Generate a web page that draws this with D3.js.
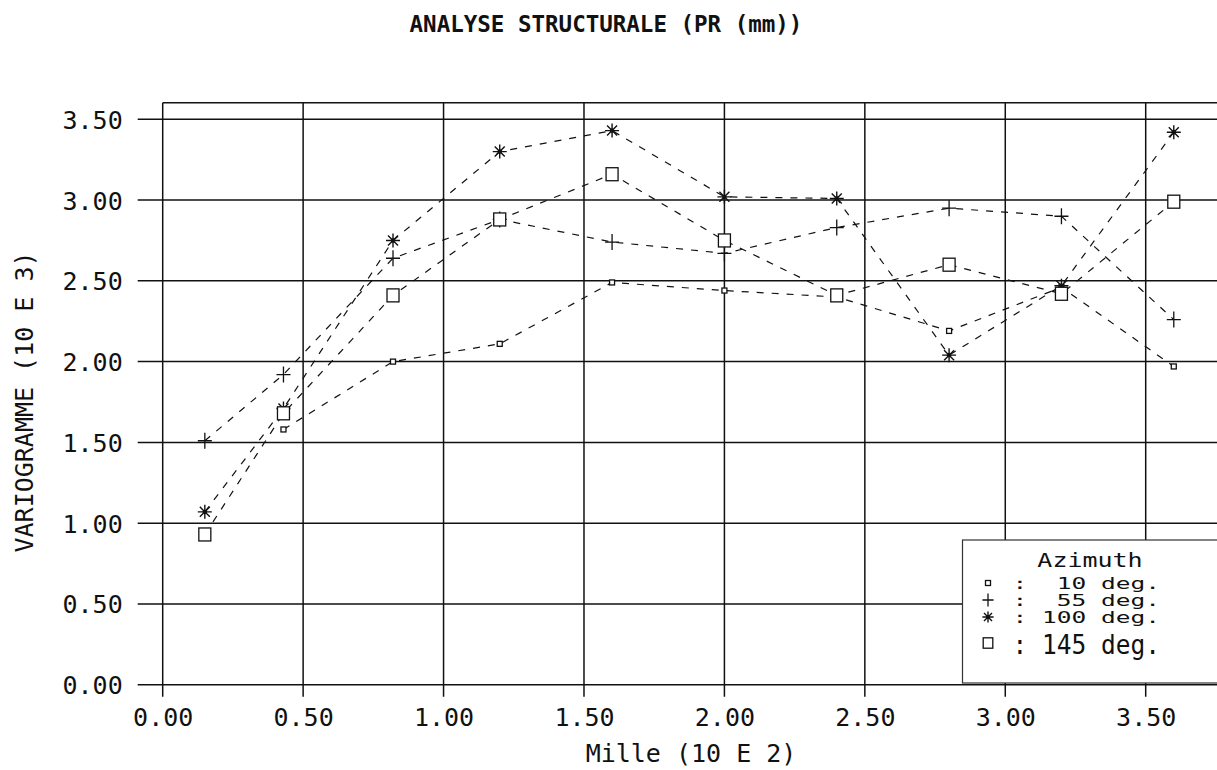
<!DOCTYPE html>
<html>
<head>
<meta charset="utf-8">
<script src="https://cdn.jsdelivr.net/npm/d3@7"></script>
<style>
  html, body { margin: 0; padding: 0; background: #fff; }
  svg { display: block; }
  text { font-family: "DejaVu Sans Mono", "Liberation Mono", monospace; fill: #111; }
</style>
</head>
<body>
<svg id="chart" width="1217" height="770"></svg>
<script>
// Lag distances (Mille, 10 E 2) and experimental variogram values (10 E 3) per azimuth
const lags  = [0.15, 0.43, 0.82, 1.20, 1.60, 2.00, 2.40, 2.80, 3.20, 3.60];
const az10  = [null, 1.58, 2.00, 2.11, 2.49, 2.44, 2.40, 2.19, 2.46, 1.97];
const az55  = [1.51, 1.92, 2.64, 2.88, 2.74, 2.67, 2.83, 2.95, 2.90, 2.26];
const az100 = [1.07, 1.71, 2.75, 3.30, 3.43, 3.02, 3.01, 2.04, 2.47, 3.42];
const az145 = [0.93, 1.68, 2.41, 2.88, 3.16, 2.75, 2.41, 2.60, 2.42, 2.99];

const seriesNames   = ["10 deg.", "55 deg.", "100 deg.", "145 deg."];
const seriesSymbols = ["dot", "plus", "star", "square"];
const xTicks = [0, 0.5, 1.0, 1.5, 2.0, 2.5, 3.0, 3.5];
const yTicks = [0, 0.5, 1.0, 1.5, 2.0, 2.5, 3.0, 3.5];

const titleText  = "ANALYSE STRUCTURALE (PR (mm))";
const xTitleText = "Mille (10 E 2)";
const yTitleText = "VARIOGRAMME (10 E 3)";
const legendTitle = "Azimuth";

const W = 1217, H = 770;
const svg = d3.select("#chart");

const x = d3.scaleLinear().domain([0, 3.5]).range([162.7, 1145.7]);
const y = d3.scaleLinear().domain([0, 3.5]).range([684.7, 119.3]);
const frameTop = 102.7;
const fmt = d3.format(".2f");
const ink = "#111";

// ---- grid and frame ----
const grid = svg.append("g").attr("stroke", ink).attr("stroke-width", 1.5);
grid.selectAll("line.h").data(yTicks).join("line")
  .attr("class", "h")
  .attr("x1", x(0) - 25).attr("x2", W)
  .attr("y1", d => y(d)).attr("y2", d => y(d));
grid.selectAll("line.v").data(xTicks).join("line")
  .attr("class", "v")
  .attr("x1", d => x(d)).attr("x2", d => x(d))
  .attr("y1", frameTop).attr("y2", y(0) + 12);
grid.append("line")
  .attr("x1", x(0)).attr("x2", W)
  .attr("y1", frameTop).attr("y2", frameTop);

// ---- axes (labels) ----
const xAxis = d3.axisBottom(x).tickValues(xTicks).tickFormat(fmt).tickSize(0).tickPadding(0);
const gx = svg.append("g").attr("transform", `translate(0,${y(0)})`).call(xAxis);
gx.select(".domain").remove();
gx.selectAll("text")
  .attr("y", 41.5).attr("dy", null)
  .attr("font-size", 25).attr("font-family", null).attr("fill", ink);

const yAxis = d3.axisLeft(y).tickValues(yTicks).tickFormat(fmt).tickSize(0).tickPadding(0);
const gy = svg.append("g").attr("transform", `translate(${x(0)},0)`).call(yAxis);
gy.select(".domain").remove();
gy.selectAll("text")
  .attr("x", -40).attr("dy", "0.36em")
  .attr("font-size", 25).attr("font-family", null).attr("fill", ink);

// ---- titles ----
svg.append("text")
  .attr("x", 606).attr("y", 32)
  .attr("text-anchor", "middle")
  .attr("font-size", 22.5).attr("font-weight", "bold")
  .text(titleText);

svg.append("text")
  .attr("x", 691).attr("y", 762)
  .attr("text-anchor", "middle")
  .attr("font-size", 25)
  .text(xTitleText);

svg.append("text")
  .attr("transform", "translate(33,402) rotate(-90)")
  .attr("text-anchor", "middle")
  .attr("font-size", 25)
  .text(yTitleText);

// ---- marker shapes ----
function drawSymbol(g, type, cx, cy, scale) {
  const s = scale || 1;
  const m = g.append("g").attr("transform", `translate(${cx},${cy})`)
    .attr("stroke", ink).attr("fill", "none").attr("stroke-width", 1.3);
  if (type === "dot") {
    m.append("rect").attr("x", -2.5).attr("y", -2.5).attr("width", 5).attr("height", 5)
      .attr("fill", "#fff");
  } else if (type === "plus") {
    m.append("path").attr("d", `M${-7*s},0H${7*s}M0,${-8*s}V${8*s}`);
  } else if (type === "star") {
    const r = 7 * s, d = 5 * s;
    m.append("path").attr("stroke-width", 1.4)
      .attr("d", `M${-r},0H${r}M0,${-r}V${r}M${-d},${-d}L${d},${d}M${-d},${d}L${d},${-d}`);
    m.append("circle").attr("r", 2.2 * s).attr("fill", ink).attr("stroke", "none");
  } else if (type === "square") {
    m.append("rect").attr("x", -6 * s).attr("y", -6.5 * s)
      .attr("width", 12 * s).attr("height", 13 * s).attr("fill", "#fff");
  }
}

// ---- series ----
const seriesValues = [az10, az55, az100, az145];
const line = d3.line()
  .defined(d => d.v != null)
  .x(d => x(d.lag)).y(d => y(d.v));

const plot = svg.append("g");
seriesValues.forEach((vals, i) => {
  const pts = lags.map((lag, k) => ({ lag, v: vals[k] }));
  plot.append("path")
    .attr("d", line(pts))
    .attr("fill", "none").attr("stroke", ink)
    .attr("stroke-width", 1.2).attr("stroke-dasharray", "7,8");
});
seriesValues.forEach((vals, i) => {
  lags.forEach((lag, k) => {
    if (vals[k] != null) drawSymbol(plot, seriesSymbols[i], x(lag), y(vals[k]));
  });
});

// ---- legend ----
const lg = svg.append("g");
lg.append("rect")
  .attr("x", 962.5).attr("y", 540).attr("width", W - 962.5 + 5).attr("height", 143)
  .attr("fill", "#fff").attr("stroke", "#333").attr("stroke-width", 1.2);

lg.append("text")
  .attr("transform", "translate(1090,567) scale(1,0.8)")
  .attr("text-anchor", "middle").attr("font-size", 25)
  .text(legendTitle);

// rows: the first three are squeezed into tight rows, the last one is taller
const rowBaselines = [589, 606, 623, 654];
const rowScaleY    = [0.62, 0.62, 0.62, 1.1];
const rowCenters   = [583, 600, 617, 643];
seriesNames.forEach((name, i) => {
  const label = ": " + name.padStart(8, " ");
  lg.append("text")
    .attr("transform", `translate(1160,${rowBaselines[i]}) scale(1,${rowScaleY[i]})`)
    .attr("text-anchor", "end").attr("font-size", 24.5)
    .attr("xml:space", "preserve").style("white-space", "pre")
    .text(label);
  drawSymbol(lg, seriesSymbols[i], 988, rowCenters[i], 0.8);
});
</script>
</body>
</html>
